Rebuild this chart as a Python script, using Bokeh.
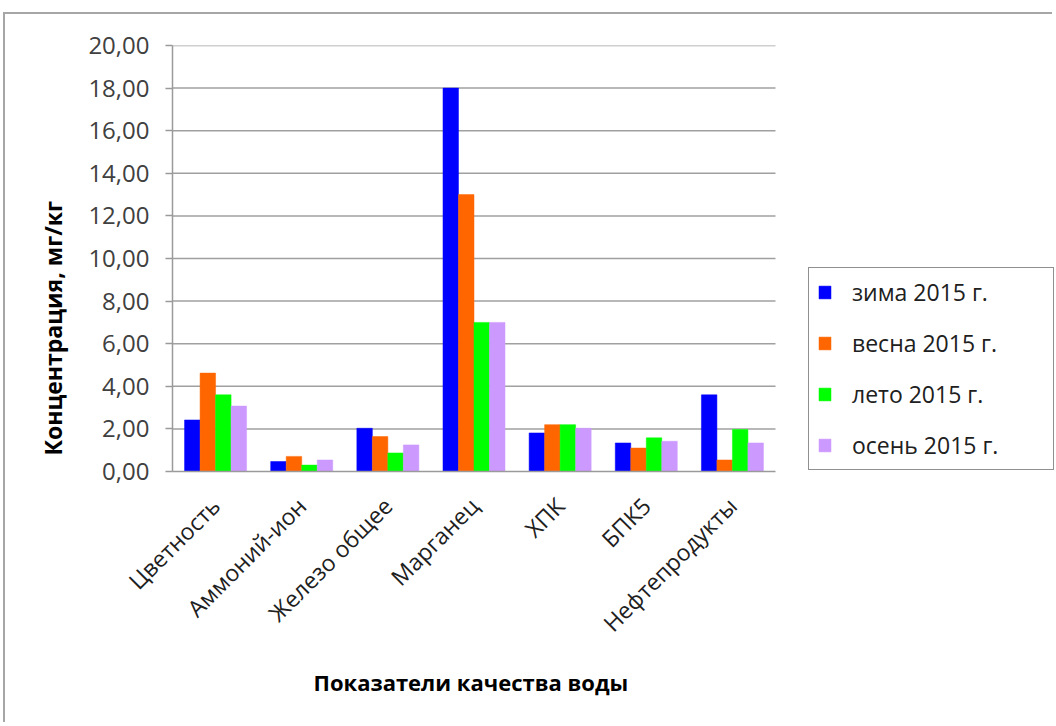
from math import pi

from bokeh.plotting import figure
from bokeh.models import (ColumnDataSource, Range1d, Legend, LegendItem,
                          Title, CustomJSTickFormatter, FixedTicker)
from bokeh.transform import dodge
from bokeh.embed import file_html
from bokeh.resources import INLINE

# Water quality indicators, concentration by season (mg/kg)
categories = ["Цветность", "Аммоний-ион", "Железо общее", "Марганец", "ХПК", "БПК5", "Нефтепродукты"]
winter = [2.42, 0.47, 2.03, 18.0, 1.81, 1.34, 3.6]
spring = [4.62, 0.71, 1.64, 13.0, 2.2, 1.1, 0.54]
summer = [3.6, 0.3, 0.87, 7.0, 2.2, 1.58, 1.97]
autumn = [3.07, 0.54, 1.25, 7.0, 2.03, 1.42, 1.34]

series_labels = ["зима 2015 г.", "весна 2015 г.", "лето 2015 г.", "осень 2015 г."]
series_colors = ["#0000FF", "#FF6600", "#00FF00", "#CC99FF"]
y_ticks = [0, 2, 4, 6, 8, 10, 12, 14, 16, 18, 20]

FONT = "Open Sans"

n = len(categories)
centers = [i + 0.5 for i in range(n)]
source = ColumnDataSource(dict(xc=centers, s0=winter, s1=spring, s2=summer, s3=autumn))

# category area is 603 px wide; the frame continues to the right to host the legend
CAT_PX, FRAME_PX = 603, 882

p = figure(
    x_range=Range1d(0, n * FRAME_PX / CAT_PX),
    y_range=Range1d(0, 20),
    width=1049, height=710,
    min_border_left=167, min_border_right=0,
    min_border_top=31, min_border_bottom=253,
    output_backend="svg", toolbar_location=None, tools="",
)
# chart-area frame around the whole figure
p.margin = (12, 0, 0, 3)
p.styles = {"border-top": "2px solid #a6a6a6", "border-left": "2px solid #a6a6a6"}
p.outline_line_color = None
p.background_fill_color = "white"
p.border_fill_color = "white"

# horizontal gridlines over the category area only
grid_src = ColumnDataSource(dict(y=y_ticks[1:]))
p.segment(x0=0, x1=n, y0="y", y1="y", source=grid_src, line_color="#a0a0a0", line_width=1.5)

# grouped bars
offsets = [-0.27, -0.09, 0.09, 0.27]
renderers = []
for i, off in enumerate(offsets):
    r = p.vbar(x=dodge("xc", off), top=f"s{i}", width=0.18,
               source=source, fill_color=series_colors[i], line_color=series_colors[i],
               line_width=0.5)
    renderers.append(r)

# y axis
p.yaxis.ticker = FixedTicker(ticks=y_ticks)
p.yaxis.formatter = CustomJSTickFormatter(code="return tick.toFixed(2).replace('.', ',');")
p.yaxis.major_label_text_font = FONT
p.yaxis.major_label_text_font_size = "24px"
p.yaxis.major_label_text_color = "#404040"
p.yaxis.axis_line_color = "#9a9a9a"
p.yaxis.axis_line_width = 1.5
p.yaxis.major_tick_line_color = "#9a9a9a"
p.yaxis.major_tick_line_width = 1.5
p.yaxis.major_tick_out = 7
p.yaxis.major_tick_in = 0
p.yaxis.minor_tick_line_color = None
p.yaxis.major_label_standoff = 16

# x axis with category names
p.xaxis.bounds = (0, n)
p.xaxis.ticker = FixedTicker(ticks=centers)
p.xaxis.major_label_overrides = {c: name for c, name in zip(centers, categories)}
p.xaxis.major_label_orientation = pi / 4
p.xaxis.major_label_text_font = FONT
p.xaxis.major_label_text_font_size = "23px"
p.xaxis.major_label_text_color = "#202020"
p.xaxis.axis_line_color = "#9a9a9a"
p.xaxis.axis_line_width = 1.5
p.xaxis.major_tick_line_color = None
p.xaxis.minor_tick_line_color = None
p.xaxis.major_label_standoff = 24

p.xgrid.grid_line_color = None
p.ygrid.grid_line_color = None

# x axis title, centred under the category area
p.add_layout(Title(text="Показатели  качества воды", align="left", offset=141,
                   text_font=FONT, text_font_style="bold", text_font_size="22px",
                   text_color="black", standoff=25), "below")

# y axis title, placed beside the axis and shifted up from the bottom
p.add_layout(Title(text="Концентрация,  мг/кг", align="left", offset=16,
                   text_font=FONT, text_font_style="bold", text_font_size="23px",
                   text_color="black", standoff=33), "left")

# legend
legend = Legend(
    items=[LegendItem(label=lbl, renderers=[r]) for lbl, r in zip(series_labels, renderers)],
    location=(636, 1),
    orientation="vertical",
    label_text_font=FONT, label_text_font_size="23px", label_text_color="#202020",
    glyph_width=15, glyph_height=16, label_height=28, label_width=193,
    label_standoff=20, spacing=19, padding=8, margin=0,
    border_line_color="#222222", border_line_width=1.5,
    background_fill_color="white", background_fill_alpha=1.0,
)
p.add_layout(legend, "center")

open("out.html", "w").write(file_html(p, INLINE))
